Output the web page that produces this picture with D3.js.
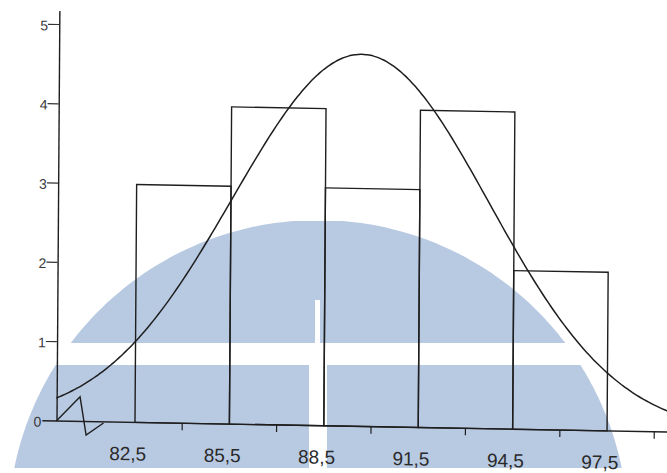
<!DOCTYPE html>
<html>
<head>
<meta charset="utf-8">
<script src="https://cdn.jsdelivr.net/npm/d3@7/dist/d3.min.js"></script>
<style>
  html, body { margin: 0; padding: 0; background: #ffffff; }
  svg { display: block; }
  text { font-family: "Liberation Sans", Arial, sans-serif; }
</style>
</head>
<body>
<svg id="chart" width="667" height="473"></svg>
<script>
// ---- data ----
const binEdges = [82.5, 85.5, 88.5, 91.5, 94.5, 97.5];
const frequencies = [3, 4, 3, 4, 2];
const xLabels = ["82,5", "85,5", "88,5", "91,5", "94,5", "97,5"];
const xTickValues = [84, 87, 90, 93, 96, 99];
const yTickValues = [0, 1, 2, 3, 4, 5];
const yTickLabels = ["0", "1", "2", "3", "4", "5"];
// axis-break zigzag (data units)
const breakX = [80, 80.75, 80.95, 81.5];
const breakY = [0, 0.31, -0.17, -0.015];

const W = 667, H = 473;
const svg = d3.select("#chart");

// ---- watermark (background decoration) ----
const wm = svg.append("g");
const cx = 318, cy = 530, R = 310;
function domePath(y0, y1) {
  const pts = [];
  const steps = 60;
  for (let i = 0; i <= steps; i++) {
    const yy = y1 - (y1 - y0) * i / steps;
    const dx = Math.sqrt(Math.max(0, R * R - (cy - yy) * (cy - yy)));
    pts.push([cx - dx, yy]);
  }
  for (let i = 0; i <= steps; i++) {
    const yy = y0 + (y1 - y0) * i / steps;
    const dx = Math.sqrt(Math.max(0, R * R - (cy - yy) * (cy - yy)));
    pts.push([cx + dx, yy]);
  }
  return "M" + pts.map(p => p.join(",")).join("L") + "Z";
}
const wmColor = "#b8c9e2";
wm.append("path").attr("d", domePath(221, 343)).attr("fill", wmColor);
wm.append("path").attr("d", domePath(365, 468)).attr("fill", wmColor);
wm.append("rect").attr("x", 315).attr("y", 300).attr("width", 5).attr("height", 44).attr("fill", "#ffffff");
wm.append("rect").attr("x", 309).attr("y", 364).attr("width", 18).attr("height", 106).attr("fill", "#ffffff");

// ---- scales ----
const x = d3.scaleLinear().domain([80, 99.5]).range([56.3, 670]);
const y = d3.scaleLinear().domain([0, 5]).range([421, 24.5]);

// slight scan skew around the origin
const b = 0.018, c = -0.007;
const ox = 57, oy = 421;
const g = svg.append("g")
  .attr("transform", `matrix(1,${b},${c},1,${-c * oy},${-b * ox})`);

const ink = "#1e1e1e";

// ---- bars ----
g.selectAll("rect.bar")
  .data(frequencies)
  .enter().append("rect")
  .attr("class", "bar")
  .attr("x", (d, i) => x(binEdges[i]))
  .attr("width", (d, i) => x(binEdges[i + 1]) - x(binEdges[i]))
  .attr("y", d => y(d))
  .attr("height", d => y(0) - y(d))
  .attr("fill", "none")
  .attr("stroke", ink)
  .attr("stroke-width", 1.4);

// ---- normal curve fitted to the histogram ----
const mids = frequencies.map((f, i) => (binEdges[i] + binEdges[i + 1]) / 2);
const n = d3.sum(frequencies);
const mean = d3.sum(mids.map((m, i) => m * frequencies[i])) / n;
const sd = Math.sqrt(d3.sum(mids.map((m, i) => frequencies[i] * (m - mean) ** 2)) / (n - 1));
const binW = binEdges[1] - binEdges[0];
const curveXs = d3.range(80, 99.51, 0.1);
const curvePts = curveXs.map(v => [v, n * binW / (sd * Math.sqrt(2 * Math.PI)) * Math.exp(-0.5 * ((v - mean) / sd) ** 2)]);
g.append("path")
  .datum(curvePts)
  .attr("fill", "none")
  .attr("stroke", ink)
  .attr("stroke-width", 1.5)
  .attr("d", d3.line().x(d => x(d[0])).y(d => y(d[1])).curve(d3.curveBasis));

// ---- axes ----
g.append("line")
  .attr("x1", x(80) - 14).attr("x2", W + 10)
  .attr("y1", y(0)).attr("y2", y(0))
  .attr("stroke", ink).attr("stroke-width", 1.4);
g.selectAll("line.xt").data(xTickValues).enter().append("line")
  .attr("x1", d => x(d)).attr("x2", d => x(d))
  .attr("y1", y(0)).attr("y2", y(0) + 7)
  .attr("stroke", ink).attr("stroke-width", 1.2);
g.selectAll("text.xl").data(xLabels).enter().append("text")
  .attr("x", (d, i) => x(binEdges[i]) - 7)
  .attr("y", y(0) + 38)
  .attr("text-anchor", "middle")
  .attr("font-size", 19)
  .attr("fill", "#2a2a2a")
  .text(d => d);

g.append("line")
  .attr("x1", x(80) + 0.7).attr("x2", x(80) + 0.7)
  .attr("y1", y(0)).attr("y2", y(5.17))
  .attr("stroke", ink).attr("stroke-width", 1.4);
g.selectAll("line.yt").data(yTickValues.filter(v => v > 0)).enter().append("line")
  .attr("x1", x(80) - 11).attr("x2", x(80))
  .attr("y1", d => y(d)).attr("y2", d => y(d))
  .attr("stroke", "#333").attr("stroke-width", 1.2);
g.selectAll("text.yl").data(yTickValues).enter().append("text")
  .attr("x", d => d === 0 ? x(80) - 15 : x(80) - 11)
  .attr("y", d => y(d) + 6)
  .attr("text-anchor", "end")
  .attr("font-size", 14)
  .attr("fill", "#3a3a3a")
  .text((d, i) => yTickLabels[i]);

g.append("path")
  .datum(breakX.map((v, i) => [v, breakY[i]]))
  .attr("fill", "none")
  .attr("stroke", ink)
  .attr("stroke-width", 1.4)
  .attr("d", d3.line().x(d => x(d[0])).y(d => y(d[1])));
</script>
</body>
</html>
